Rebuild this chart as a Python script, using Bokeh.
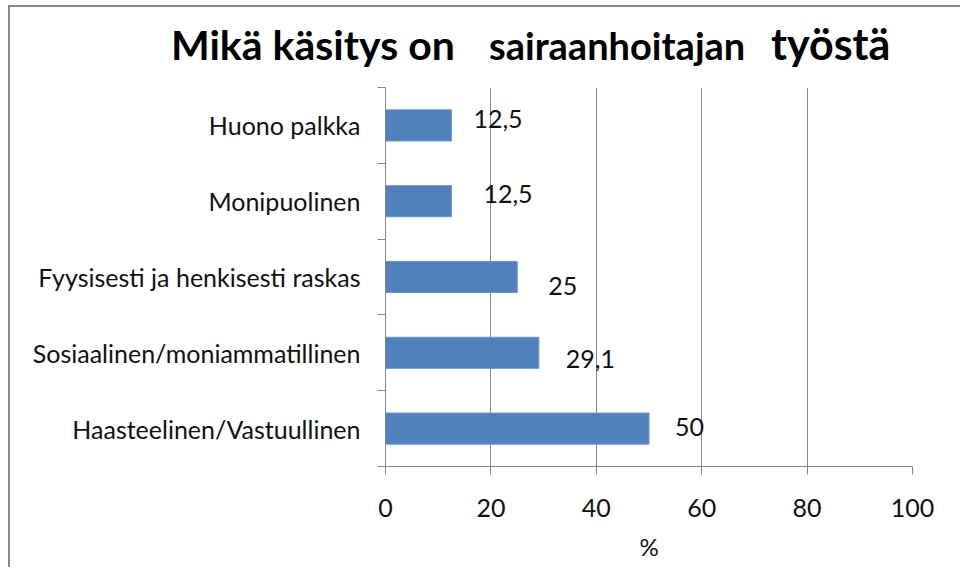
from bokeh.plotting import figure
from bokeh.models import ColumnDataSource, Range1d, FixedTicker, Div
from bokeh.layouts import column
from bokeh.core.properties import value
from bokeh.embed import file_html
from bokeh.resources import INLINE

# ---- data ----
categories = ["Huono palkka", "Monipuolinen", "Fyysisesti ja henkisesti raskas",
              "Sosiaalinen/moniammatillinen", "Haasteelinen/Vastuullinen"]
values = [12.5, 12.5, 25, 29.1, 50]
x_ticks = [0, 20, 40, 60, 80, 100]
title_parts = ["Mikä käsitys on", "sairaanhoitajan", "työstä"]
x_label = "%"

# label nudges (pixels), as placed in the original chart
label_dx = [22, 32, 31, 27, 26]
label_dy = [-6, -7, 9, 6, -2]

n = len(categories)
centers = [n - i - 0.5 for i in range(n)]
bounds = list(range(n + 1))
labels = [f"{v:g}".replace(".", ",") for v in values]

src = ColumnDataSource(dict(cat=categories, val=values, y=centers,
                            lab=labels, dx=label_dx, dy=label_dy))

FONT = "Lato"
GRAY = "#868686"
FW, FH = 527, 379
W = 375 + FW + 38

p = figure(frame_width=FW, frame_height=FH,
           min_border_left=375, min_border_right=38,
           min_border_top=10, min_border_bottom=101,
           x_range=Range1d(0, 100), y_range=Range1d(0, n),
           output_backend="svg", toolbar_location=None,
           background_fill_color="white", border_fill_color="white")
p.outline_line_color = None

p.hbar(y="y", right="val", left=0, height=0.41, source=src,
       fill_color="#4F81BD", line_color="#6A95CC", line_width=1)

p.text(x="val", y="y", text="lab", x_offset="dx", y_offset="dy", source=src,
       text_font=value(FONT), text_font_size="25px", text_color="#111111",
       text_align="left", text_baseline="middle")

# x axis
p.xaxis.ticker = FixedTicker(ticks=x_ticks)
p.xaxis.axis_line_color = GRAY
p.xaxis.major_tick_line_color = GRAY
p.xaxis.major_tick_out = 8
p.xaxis.major_tick_in = 0
p.xaxis.minor_tick_line_color = None
p.xaxis.major_label_text_font = FONT
p.xaxis.major_label_text_font_size = "25px"
p.xaxis.major_label_text_color = "#111111"
p.xaxis.major_label_standoff = 24
p.xaxis.axis_label = x_label
p.xaxis.axis_label_text_font = FONT
p.xaxis.axis_label_text_font_style = "normal"
p.xaxis.axis_label_text_font_size = "24px"
p.xaxis.axis_label_text_color = "#111111"
p.xaxis.axis_label_standoff = 12

# y axis: labels at centers, ticks at boundaries
p.yaxis.ticker = FixedTicker(ticks=centers, minor_ticks=bounds)
p.yaxis.major_label_overrides = {c: cat for c, cat in zip(centers, categories)}
p.yaxis.axis_line_color = GRAY
p.yaxis.major_tick_line_color = None
p.yaxis.major_tick_out = 0
p.yaxis.major_tick_in = 0
p.yaxis.minor_tick_line_color = GRAY
p.yaxis.minor_tick_out = 8
p.yaxis.minor_tick_in = 0
p.yaxis.major_label_text_font = FONT
p.yaxis.major_label_text_font_size = "25px"
p.yaxis.major_label_text_color = "#111111"
p.yaxis.major_label_standoff = 17

p.xgrid.ticker = FixedTicker(ticks=x_ticks)
p.xgrid.grid_line_color = GRAY
p.ygrid.grid_line_color = None

# title in mixed sizes, as in the original
span_w = [318, 282, 180]
span_sz = [41, 38, 43]
spans = "".join(
    f'<span style="display:inline-block;width:{w}px;font-size:{s}px">{t}</span>'
    for t, w, s in zip(title_parts, span_w, span_sz))
title = Div(text=spans, width=W, height=60,
            styles={"font-family": "Lato", "font-weight": "bold", "color": "black",
                    "white-space": "nowrap", "padding-left": "156px",
                    "padding-top": "1px", "box-sizing": "border-box"})

layout = column(title, p, spacing=0,
                styles={"border-left": "2px solid #888888",
                        "border-top": "2px solid #888888",
                        "margin-left": "8px", "margin-top": "5px"})

open("out.html", "w").write(file_html(layout, INLINE))
